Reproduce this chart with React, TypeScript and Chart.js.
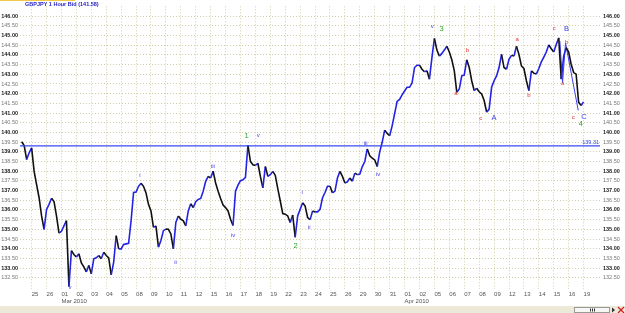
import React, { useEffect, useRef } from 'react';
import { Chart, registerables } from 'chart.js';
Chart.register(...registerables);

// trading days shown on the x axis (index 0 = Feb 25 2010)
const dayLabels = ['25','26','01','02','03','04','05','08','09','10','11','12','15','16','17','18','19','22','23','24','25','26','29','30','31','01','02','05','06','07','08','09','12','13','14','15','16','19'];
const monthLabelDays = [2, 25];
const monthLabels = ['Mar 2010', 'Apr 2010'];

// GBPJPY price sampled every 4 hours, starting Feb 24 16:00
const firstSampleDay = -2 / 3;
const samplesPerDay = 6;
const prices = [
  139.52, 139.32, 138.6, 138.95, 139.2, 137.99, 137.31, 136.63, 135.69, 135.0,
  136.03, 136.29, 136.6, 136.43, 135.69, 134.8, 134.9, 135.18, 135.45, 132.05,
  133.9, 133.7, 133.57, 133.74, 133.26, 133.06, 132.8, 133.14, 132.7, 133.48,
  133.53, 133.65, 133.48, 133.82, 133.65, 133.53, 132.65, 133.31, 134.67, 133.99,
  133.99, 134.22, 134.25, 134.28, 135.44, 136.9, 136.92, 137.22, 137.38, 137.22,
  136.88, 136.29, 135.95, 135.1, 135.18, 134.08, 134.42, 134.93,
  135.01, 135.0, 134.76, 133.99, 135.35, 135.69, 135.52, 135.44, 135.18, 135.95,
  136.32, 136.12, 136.43, 136.54, 136.59, 136.97, 137.48, 137.73, 137.65, 138.0,
  137.39, 136.97, 136.59, 136.25, 136.12, 135.95, 135.52, 135.2, 136.97, 137.28,
  137.51, 137.56, 137.68, 139.35, 138.5, 138.33, 138.3, 138.41, 137.73, 137.14,
  138.24, 137.73, 137.82, 137.99, 137.78, 137.1, 136.46, 135.81, 135.78, 135.69,
  135.35, 135.74, 134.59, 135.69, 136.03, 136.37, 136.2, 135.61,
  135.5, 135.95, 135.9, 135.9, 136.03, 136.63, 136.9, 137.22, 137.22, 136.88,
  136.97, 137.65, 137.99, 137.73, 137.39, 137.45, 137.65, 137.48, 137.9, 137.82,
  137.85, 138.24, 138.5, 139.15, 138.8, 138.67, 138.58, 138.24, 139.0, 139.49,
  140.12, 139.95, 139.83, 140.34, 140.97, 141.6, 141.7, 141.94, 142.14, 142.33,
  142.33, 142.55, 143.35, 143.47, 143.47, 143.26, 143.13, 143.18, 142.75, 143.86,
  144.85, 144.25, 143.94, 144.08, 144.25, 144.45, 144.15, 143.75, 143.18, 142.07,
  142.24, 142.92, 142.96, 143.75, 143.35, 142.67, 142.16, 142.28, 142.1, 141.99,
  141.65, 141.05, 141.19, 142.33, 142.67, 142.92, 143.35, 144.03, 143.35, 143.26,
  143.77, 143.98, 143.94, 144.45, 144.03, 143.43, 143.3, 142.67, 142.16, 143.18,
  143.06, 143.01, 143.3, 143.64, 143.89, 144.15, 144.52, 144.32, 144.15, 144.54,
  144.88, 142.75, 143.94, 144.37, 144.15, 143.52, 143.09, 143.01, 141.56, 141.39, 141.58,
];

const yTicks = [132.5, 133, 133.5, 134, 134.5, 135, 135.5, 136, 136.5, 137, 137.5, 138, 138.5, 139, 139.5, 140, 140.5, 141, 141.5, 142, 142.5, 143, 143.5, 144, 144.5, 145, 145.5, 146];

const supportLevel = 139.31;
const titleText = 'GBPJPY 1 Hour Bid (141.58)';

// Elliott wave labels
const waveText = ['v', 'i', 'ii', 'iii', 'iv', '1', 'v', '2', 'i', 'ii', 'iii', 'iv', 'v', '3', 'a', 'b', 'c', 'A', 'a', 'b', 'c', 'B', 'a', 'b', 'c', 'C', '4'];
const waveDay = [2.57, 7.26, 9.65, 12.15, 13.51, 14.41, 15.19, 17.69, 18.14, 18.61, 22.39, 23.23, 26.86, 27.48, 28.44, 29.22, 30.11, 31.0, 32.55, 33.33, 35.03, 35.86, 35.59, 35.86, 36.3, 37.02, 36.82];
const wavePrice = [131.99, 137.77, 133.28, 138.24, 134.67, 139.83, 139.83, 134.16, 136.92, 135.1, 139.43, 137.82, 145.47, 145.35, 142.02, 144.23, 140.74, 140.74, 144.79, 141.93, 145.35, 145.35, 142.53, 144.66, 140.8, 140.8, 140.45];
const waveKind = ['s', 's', 's', 's', 's', 'g', 's', 'g', 's', 's', 's', 's', 's', 'g', 'r', 'r', 'r', 'B', 'r', 'r', 'r', 'B', 'r', 'r', 'r', 'B', 'g'];

// zigzag wave line B-a-b-c
const zigzagDay = [35.41, 35.59, 35.79, 36.64];
const zigzagPrice = [144.71, 142.58, 144.62, 141.14];

const xMin = -0.78;
const xMax = 38.1;
const yMin = 131.92;
const yMax = 146.51;

const BLUE = '#2323e6';
const DARK = '#111111';
const GRID = 'rgba(196,190,140,0.75)';
const FAMILY = '"Liberation Sans", Arial, sans-serif';

const yTickFont = (ctx: any) => ({
  size: 5.5,
  family: FAMILY,
  weight: ctx.tick && Math.abs(ctx.tick.value % 1) < 1e-9 ? 'bold' : 'normal',
});
const yTickColor = (ctx: any) => (ctx.tick && Math.abs(ctx.tick.value % 1) < 1e-9 ? '#222' : '#777');

const overlayPlugin = {
  id: 'overlay',
  afterDatasetsDraw(chart: any) {
    const { ctx, chartArea, scales } = chart;
    const xs = scales.x;
    const ys = scales.y;
    ctx.save();
    // wave labels
    ctx.textAlign = 'center';
    ctx.textBaseline = 'middle';
    for (let i = 0; i < waveText.length; i++) {
      const k = waveKind[i];
      let color = '#3a3ae8';
      let font = `6px ${FAMILY}`;
      if (k === 'g') { color = '#2aa52a'; font = `7.5px ${FAMILY}`; }
      if (k === 'r') { color = '#e43030'; font = `6px ${FAMILY}`; }
      if (k === 'B') { color = '#3a3ae8'; font = `7.5px ${FAMILY}`; }
      ctx.fillStyle = color;
      ctx.font = font;
      ctx.fillText(waveText[i], xs.getPixelForValue(waveDay[i]), ys.getPixelForValue(wavePrice[i]));
    }
    // support level label
    ctx.fillStyle = '#3a4ae8';
    ctx.font = `5.5px ${FAMILY}`;
    ctx.textAlign = 'right';
    ctx.textBaseline = 'bottom';
    ctx.fillText(supportLevel.toFixed(2), chartArea.right - 1, ys.getPixelForValue(supportLevel) - 0.5);
    // title
    ctx.fillStyle = '#2424c8';
    ctx.font = `bold 5.5px ${FAMILY}`;
    ctx.textAlign = 'left';
    ctx.textBaseline = 'middle';
    ctx.fillText(titleText, 25, 4.5);
    // top accent
    ctx.fillStyle = '#f2c84a';
    ctx.fillRect(0, 0, 75, 1);
    // bottom scroll strip
    ctx.fillStyle = '#ece9d8';
    ctx.fillRect(0, 306, 625, 7);
    ctx.fillStyle = '#f6f6f2';
    ctx.strokeStyle = '#9a9a9a';
    ctx.lineWidth = 1;
    ctx.fillRect(574, 307, 36, 5);
    ctx.strokeRect(574.5, 307.5, 35, 5);
    ctx.fillStyle = '#333';
    ctx.fillRect(590, 308.5, 1, 3);
    ctx.fillRect(592, 308.5, 1, 3);
    ctx.fillRect(594, 308.5, 1, 3);
    ctx.beginPath();
    ctx.moveTo(612, 307.5); ctx.lineTo(615, 310); ctx.lineTo(612, 312.5); ctx.closePath();
    ctx.fill();
    ctx.strokeStyle = '#d42020';
    ctx.lineWidth = 1.3;
    ctx.beginPath();
    ctx.moveTo(618, 307); ctx.lineTo(624, 313);
    ctx.moveTo(624, 307); ctx.lineTo(618, 313);
    ctx.stroke();
    ctx.restore();
  },
};

export default function App() {
  const ref = useRef<HTMLCanvasElement | null>(null);
  useEffect(() => {
    document.body.style.margin = '0';
    const canvas = ref.current;
    if (!canvas) return;
    const chart = new Chart(canvas, {
      type: 'line',
      data: {
        datasets: [
          {
            data: [
              { x: xMin, y: supportLevel },
              { x: xMax, y: supportLevel },
            ],
            borderColor: '#3a4af0',
            borderWidth: 1.2,
            pointRadius: 0,
          },
          {
            data: prices.map((p, i) => ({ x: firstSampleDay + i / samplesPerDay, y: p })),
            borderColor: BLUE,
            borderWidth: 1.6,
            pointRadius: 0,
            tension: 0,
            segment: {
              borderColor: (c: any) => (c.p1.parsed.y >= c.p0.parsed.y ? BLUE : DARK),
            },
          },
          {
            data: zigzagDay.map((d, i) => ({ x: d, y: zigzagPrice[i] })),
            borderColor: '#3d3df0',
            borderWidth: 1,
            pointRadius: 0,
          },
        ],
      },
      options: {
        animation: false,
        responsive: false,
        maintainAspectRatio: false,
        layout: { padding: { top: 3, left: 0, right: 0, bottom: 0 } },
        plugins: { legend: { display: false }, tooltip: { enabled: false }, title: { display: false } },
        scales: {
          x: {
            type: 'linear',
            min: xMin,
            max: xMax,
            afterBuildTicks: (s: any) => {
              s.ticks = dayLabels.map((_, i) => ({ value: i }));
            },
            afterFit: (s: any) => {
              s.height = 24;
            },
            grid: { color: GRID, drawTicks: false, lineWidth: 1 },
            border: { display: false, dash: [1, 2] },
            ticks: {
              autoSkip: false,
              maxRotation: 0,
              minRotation: 0,
              align: 'start',
              padding: 2,
              color: '#555',
              font: { size: 6, family: FAMILY },
              callback: (v: any) => {
                const i = Math.round(Number(v));
                const m = monthLabelDays.indexOf(i);
                return m >= 0 ? [dayLabels[i], monthLabels[m]] : dayLabels[i];
              },
            },
          },
          y: {
            type: 'linear',
            position: 'left',
            min: yMin,
            max: yMax,
            afterBuildTicks: (s: any) => {
              s.ticks = yTicks.map((v) => ({ value: v }));
            },
            afterFit: (s: any) => {
              s.width = 20;
            },
            grid: { color: GRID, drawTicks: false, lineWidth: 1 },
            border: { display: false, dash: [1, 2] },
            ticks: {
              autoSkip: false,
              padding: 2,
              color: yTickColor,
              font: yTickFont,
              callback: (v: any) => Number(v).toFixed(2),
            },
          },
          y2: {
            type: 'linear',
            position: 'right',
            min: yMin,
            max: yMax,
            afterBuildTicks: (s: any) => {
              s.ticks = yTicks.map((v) => ({ value: v }));
            },
            afterFit: (s: any) => {
              s.width = 25;
            },
            grid: { display: false, drawTicks: false },
            border: { display: false },
            ticks: {
              autoSkip: false,
              padding: 3,
              color: yTickColor,
              font: yTickFont,
              callback: (v: any) => Number(v).toFixed(2),
            },
          },
        },
      } as any,
      plugins: [overlayPlugin],
    });
    return () => chart.destroy();
  }, []);
  return (
    <div style={{ position: 'fixed', left: 0, top: 0, width: 625, height: 313, background: '#fff' }}>
      <canvas ref={ref} width={625} height={313} style={{ display: 'block', width: 625, height: 313 }} />
    </div>
  );
}
